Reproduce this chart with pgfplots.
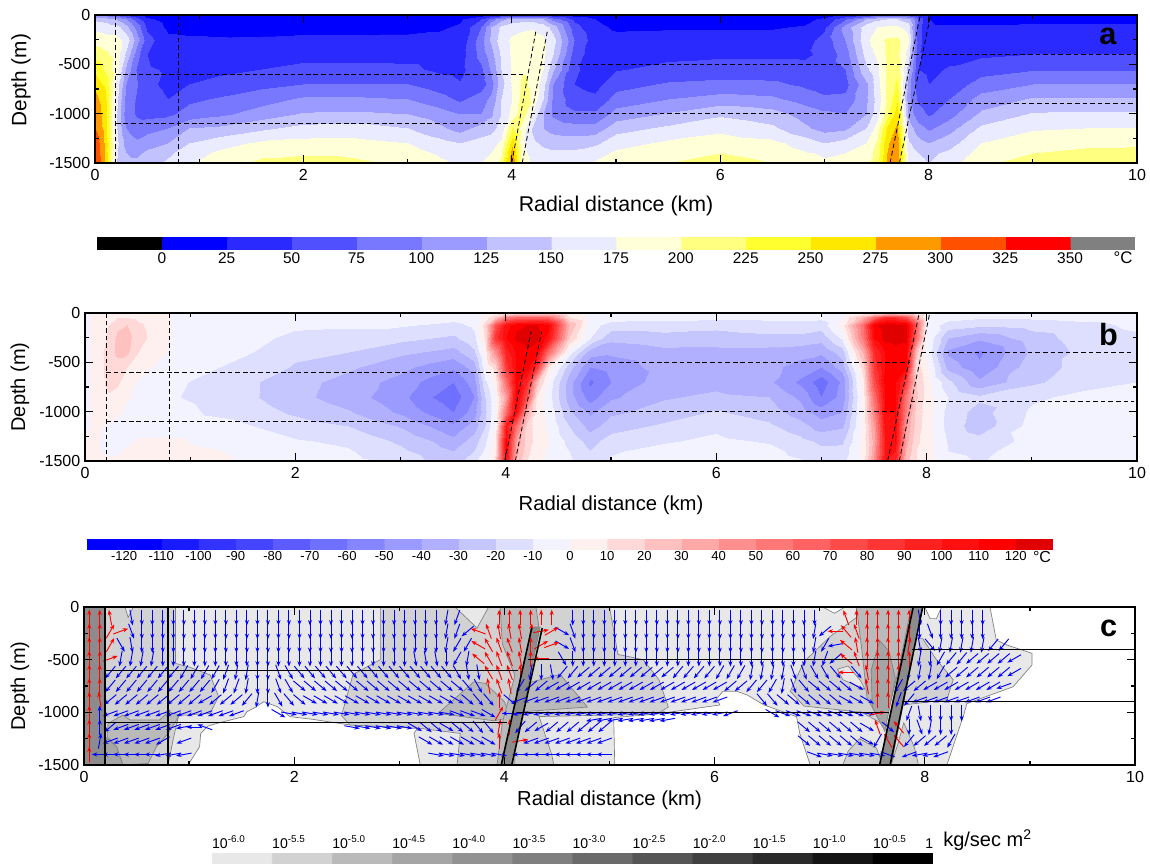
\documentclass[border=0pt]{standalone}
\usepackage{pgfplots}
\pgfplotsset{compat=1.18}
\usepackage{fontspec}
\setmainfont{Liberation Sans}
\usetikzlibrary{arrows.meta}
\definecolor{g1}{RGB}{232,232,232}\definecolor{g2}{RGB}{210,210,210}\definecolor{g3}{RGB}{186,186,186}\definecolor{g4}{RGB}{165,165,165}\definecolor{g5}{RGB}{140,140,140}
\newcount\gc
\gc=0
\pgfplotsforeachungrouped \x in {0,.1,.2,.3,.4,.5,.7,.9,1.2,1.6,2,2.5,3,3.3,3.5,3.7,3.8,3.9,4,4.1,4.2,4.3,4.4,4.6,4.8,5,5.5,6,6.5,6.8,7,7.2,7.4,7.5,7.6,7.7,7.8,7.9,8,8.2,8.5,9,9.5,10}{\advance\gc by 1 \expandafter\xdef\csname xn\the\gc\endcsname{\x}}
\gdef\ga{}\gdef\gb{}
\newcommand\grow[3]{\gc=0 \pgfplotsforeachungrouped \v in {#3}{\advance\gc by 1 \xdef#1{#1 (\csname xn\the\gc\endcsname,#2) [\v]}}\ifnum\gc=44 \else\errmessage{row #2 has \the\gc}\fi}
% temperature, panel a
\grow\ga{0}{100,95,70,45,25,12,8,8, 8,8,8,8,8,8, 10,15,25,35,40,40,40,35,28,15,10, 8,8,8,8,8, 15,30,50,65,70,70,60,35, 15,10,10,10,10,10}
\grow\ga{-40}{145,140,125,100,60,30,15,12, 12,12,12,12,12,14, 22,50,85,115,135,140,140,125,90,45,25, 16,14,14,14,18, 30,70,125,145,150,150,135,70, 25,18,18,18,18,18}
\grow\ga{-120}{168,165,160,135,90,45,20,19, 19,18,18,18,19,22, 28,75,125,155,165,170,172,165,140,60,30, 22,23,23,23,27, 45,110,165,175,180,180,165,60, 28,28,28,30,30,30}
\grow\ga{-250}{190,185,185,165,110,60,30,28, 27,28,30,30,30,31, 32,90,130,165,180,185,185,180,160,75,35, 31,32,33,34,38, 60,100,170,190,205,205,180,60, 30,33,35,38,38,38}
\grow\ga{-400}{215,205,190,145,85,50,40,38, 38,40,41,41,41,40, 38,85,115,155,180,190,188,180,150,65,33, 38,44,46,46,46, 55,88,160,180,205,205,165,55, 38,42,45,50,50,50}
\grow\ga{-550}{245,220,185,120,72,52,48,46, 44,50,57,57,55,45, 42,70,105,150,180,198,195,175,130,55,37, 48,56,60,60,56, 60,75,145,170,205,215,140,50, 45,52,65,73,73,73}
\grow\ga{-700}{265,245,170,100,76,55,45,50, 58,68,75,75,75,62, 52,60,90,140,178,205,195,160,100,50,42, 65,78,82,80,70, 62,65,120,165,205,230,115,60, 50,60,85,100,100,100}
\grow\ga{-850}{285,258,160,90,72,60,50,70, 78,90,104,104,100,85, 70,90,105,150,175,210,195,150,95,60,55, 85,100,110,105,90, 80,82,120,160,205,245,110,70, 60,75,110,128,128,128}
\grow\ga{-1000}{295,262,155,85,72,68,70,85, 95,112,128,130,125,112, 100,100,120,150,185,215,170,125,95,80,80, 110,128,146,135,115, 105,100,125,165,215,265,120,85, 72,90,130,153,155,155}
\grow\ga{-1150}{300,265,155,100,85,90,100,125, 130,145,158,160,150,130, 115,135,140,160,225,190,145,125,115,110,110, 140,155,168,155,130, 115,120,150,185,255,280,140,110, 95,115,155,172,175,175}
\grow\ga{-1300}{320,270,160,115,105,115,125,150, 165,180,183,183,175,160, 150,160,165,180,265,180,155,145,140,140,145, 165,180,188,182,165, 150,160,175,205,270,295,155,135, 125,140,175,190,195,195}
\grow\ga{-1400}{325,272,155,125,120,130,145,165, 180,195,197,195,185,172, 165,172,175,195,290,185,165,158,155,155,165, 180,190,200,190,178, 172,175,185,210,275,295,165,150, 145,155,185,200,205,210}
\grow\ga{-1500}{330,275,150,130,130,140,155,172, 190,205,212,205,195,180, 170,175,178,210,300,190,170,165,165,170,178, 190,200,212,200,185, 178,178,190,215,280,295,170,155, 150,165,195,212,220,225}
% temperature difference, panel b
\grow\gb{0}{-3,3,4,5,5,4,3,-3, -3,-3,-3,-3,-3,-3, -3,-2,2,6,8,10,10,10,10,3,-3, -3,-3,-3,-3,-3, -3,-1,4,8,12,12,10,3, -3,-3,-3,-3,-3,-3}
\grow\gb{-40}{-3,4,6,9,9,7,3,-3, -3,-3,-3,-3,-4,-5, -6,-4,4,20,50,60,60,60,60,10,-3, -4,-6,-7,-7,-7, -7,0,30,60,85,85,70,30, -2,-5,-8,-8,-6,-5}
\grow\gb{-120}{-3,5,8,18,20,12,4,-3, -3,-3,-8,-9,-9,-11, -13,-8,15,70,105,118,120,120,115,30,-5, -15,-15,-17,-14,-14, -16,5,60,118,125,125,125,70, -3,-15,-18,-16,-13,-8}
\grow\gb{-250}{-3,5,10,22,24,14,4,-3, -4,-7,-13,-13,-17,-20, -22,-13,12,85,110,122,125,122,105,20,-10, -27,-24,-25,-23,-23, -26,-8,55,110,125,125,122,60, -2,-30,-38,-25,-15,-12}
\grow\gb{-400}{-3,5,12,22,22,10,2,-3, -5,-10,-18,-20,-28,-31, -34,-22,5,45,95,112,118,112,60,-5,-35, -38,-33,-33,-34,-36, -38,-25,32,90,110,115,115,25, -3,-42,-52,-28,-17,-13}
\grow\gb{-550}{-3,4,12,16,10,4,-2,-3, -9,-14,-21,-28,-37,-44, -48,-35,-2,15,85,110,115,85,10,-25,-50, -46,-36,-35,-37,-44, -50,-35,15,85,112,112,110,15, 3,-34,-48,-24,-17,-12}
\grow\gb{-700}{-3,4,11,12,5,-1,-3,-9, -13,-19,-26,-34,-44,-54, -60,-45,-12,3,60,112,90,25,-3,-35,-62, -50,-34,-33,-38,-52, -66,-48,8,75,115,112,80,20, 5,-17,-38,-22,-14,-10}
\grow\gb{-850}{-3,4,9,6,1,-2,-3,-10, -14,-19,-27,-35,-47,-60, -66,-50,-20,-2,40,115,70,8,-5,-35,-55, -42,-31,-28,-30,-42, -60,-46,3,60,110,112,55,22, 5,-10,-18,-12,-7,-6}
\grow\gb{-1000}{-3,3,6,2,-2,-3,-3,-6, -12,-15,-22,-29,-42,-53, -60,-45,-22,-2,60,110,35,5,-2,-28,-42, -32,-26,-19,-25,-35, -45,-40,2,50,110,110,50,16, 5,-14,-24,-8,-5,-4}
\grow\gb{-1150}{-2,2,-1,-3,-3,-3,-3,-3, -5,-10,-15,-20,-31,-41, -48,-35,-20,0,100,60,15,5,-1,-20,-34, -25,-18,-12,-18,-26, -35,-32,2,40,105,110,40,15, 5,-14,-26,-6,-4,-3}
\grow\gb{-1300}{1,1,-2,-4,-2,1,1,1, -3,-4,-9,-12,-22,-30, -37,-25,-12,5,112,40,15,6,0,-13,-24, -15,-11,-8,-11,-17, -22,-22,3,35,100,110,35,12, 6,-11,-16,-7,-3,-3}
\grow\gb{-1400}{1,1,-1,-2,2,3,3,3, 1,-3,-6,-9,-18,-25, -30,-20,-8,8,110,35,12,5,-1,-10,-20, -11,-7,-5,-7,-13, -18,-16,3,40,100,100,30,10, 5,-10,-13,-4,-3,-3}
\grow\gb{-1500}{1,2,2,2,3,4,4,3, 3,-3,-3,-7,-12,-22, -26,-12,-5,12,105,30,10,4,-2,-8,-17, -9,-5,-4,-6,-9, -14,-14,3,45,100,95,25,10, 5,-6,-11,-3,-3,-3}
% flow direction, panel c: count/angle (tens of degrees); negative = red, 99 = no arrow
\newcount\qk \newcount\qn
\gdef\qblue{}\gdef\qred{}
\def\qseg#1/#2\relax#3{\qn=0 \loop\ifnum\qn<#1 \qemit{#2}{#3}\advance\qn by 1 \repeat}
\newcommand\qemit[2]{\pgfmathsetmacro\qx{0.05+0.1*\the\qk}\advance\qk by 1
 \ifnum#1=99 \else\ifnum#1<0 \xdef\qred{\unexpanded\expandafter{\qred}\qx\space #2\space \the\numexpr-10*(#1)\relax\unexpanded{\\}}\else\xdef\qblue{\unexpanded\expandafter{\qblue}\qx\space #2\space \the\numexpr10*(#1)\relax\unexpanded{\\}}\fi\fi}
\newcommand\qrow[2]{\qk=0 \pgfplotsforeachungrouped \seg in {#2}{\expandafter\qseg\seg\relax{#1}}}
\qrow{-100}{2/-9,1/-10,1/99,1/28,29/27,1/26,1/25,3/99,6/-9,1/99,24/27,2/99,1/-11,6/-9,1/28,1/99,5/27}
\qrow{-230}{2/-9,1/-6,1/-2,1/29,29/27,1/26,1/25,1/22,1/-16,1/-11,3/-10,1/-8,1/-1,1/-3,1/33,1/29,22/27,1/26,1/22,1/-18,1/-13,1/-11,5/-9,1/27,1/29,5/27}
\qrow{-360}{2/-9,1/-6,1/30,1/28,29/27,1/26,1/24,1/24,1/-15,1/-12,2/-11,1/-10,1/-9,1/-3,1/-2,1/33,1/29,22/27,1/26,1/24,1/19,1/-14,1/-10,4/-9,1/-8,1/28,1/31,5/26,2/23}
\qrow{-490}{2/-9,1/-2,2/26,2/26,24/27,3/28,1/27,1/24,1/26,1/-14,1/-12,2/-11,1/-10,1/-9,1/-18,1/99,1/30,23/27,1/26,1/25,1/22,1/-14,1/-11,5/-9,1/26,1/27,1/24,2/23,4/22,1/21}
\qrow{-620}{2/-9,7/23,4/24,1/25,2/26,2/27,1/29,1/30,15/31,1/30,2/28,1/-12,2/-11,1/-9,1/26,1/27,1/28,2/23,9/22,4/23,3/24,4/26,2/29,2/30,1/31,1/-18,1/31,1/-10,3/-9,1/26,2/26,1/24,6/22,1/21}
\qrow{-750}{2/-9,10/23,1/24,2/25,1/26,2/27,1/29,1/30,16/32,1/31,1/30,1/-10,1/-11,1/-10,1/24,2/22,17/21,2/22,2/23,1/24,1/26,1/29,1/31,4/32,1/33,1/-10,2/-9,1/24,2/22,7/21,1/20}
\qrow{-880}{1/-9,1/-10,9/22,1/21,2/22,1/22,1/23,1/26,1/27,1/30,1/31,1/32,15/33,1/32,2/31,1/-9,1/32,20/20,3/99,2/31,6/32,3/33,2/-9,1/25,1/23,8/20}
\qrow{-1010}{1/-9,1/9,13/20,3/99,1/33,16/35,3/34,1/33,1/-6,1/18,20/19,1/20,3/99,1/33,8/34,1/35,1/-1,2/99,1/25,1/28,4/27}
\qrow{-1070}{48/99,8/19}
\qrow{-1140}{1/-9,1/9,1/22,6/20,1/19,1/18,1/16,13/99,6/35,1/33,2/32,1/33,2/32,2/31,1/-8,1/-9,1/23,1/22,1/21,6/22,18/99,6/32,1/33,1/-11,1/32,1/-13,1/27,1/29,1/26,2/27}
\qrow{-1270}{1/-9,1/8,5/20,1/21,1/99,1/20,22/99,7/33,1/-9,1/99,1/-1,8/20,18/99,6/32,1/33,1/24,1/-12,1/-13,1/23,3/22,1/24}
\qrow{-1400}{1/-9,6/18,3/19,23/99,7/35,1/99,9/18,19/99,1/34,6/35,1/34,1/99,1/20,2/19,1/20}
\pgfplotsset{
colormap={ta}{rgb255(0pt)=(0,0,0) rgb255(24.9pt)=(0,0,0) rgb255(25pt)=(0,0,255) rgb255(49.9pt)=(0,0,255) rgb255(50pt)=(42,42,255) rgb255(74.9pt)=(42,42,255) rgb255(75pt)=(80,80,255) rgb255(99.9pt)=(80,80,255) rgb255(100pt)=(120,120,255) rgb255(124.9pt)=(120,120,255) rgb255(125pt)=(154,154,255) rgb255(149.9pt)=(154,154,255) rgb255(150pt)=(194,194,255) rgb255(174.9pt)=(194,194,255) rgb255(175pt)=(235,235,255) rgb255(199.9pt)=(235,235,255) rgb255(200pt)=(255,255,216) rgb255(224.9pt)=(255,255,216) rgb255(225pt)=(255,255,128) rgb255(249.9pt)=(255,255,128) rgb255(250pt)=(255,255,48) rgb255(274.9pt)=(255,255,48) rgb255(275pt)=(255,232,0) rgb255(299.9pt)=(255,232,0) rgb255(300pt)=(255,153,0) rgb255(324.9pt)=(255,153,0) rgb255(325pt)=(255,80,0) rgb255(349.9pt)=(255,80,0) rgb255(350pt)=(255,0,0) rgb255(374.9pt)=(255,0,0) rgb255(375pt)=(128,128,128) rgb255(400pt)=(128,128,128)},
colormap={tb}{rgb255(0pt)=(0,0,255) rgb255(19.9pt)=(0,0,255) rgb255(20pt)=(26,26,255) rgb255(29.9pt)=(26,26,255) rgb255(30pt)=(51,51,255) rgb255(39.9pt)=(51,51,255) rgb255(40pt)=(69,69,255) rgb255(49.9pt)=(69,69,255) rgb255(50pt)=(91,91,255) rgb255(59.9pt)=(91,91,255) rgb255(60pt)=(112,112,255) rgb255(69.9pt)=(112,112,255) rgb255(70pt)=(133,133,255) rgb255(79.9pt)=(133,133,255) rgb255(80pt)=(154,154,255) rgb255(89.9pt)=(154,154,255) rgb255(90pt)=(176,176,255) rgb255(99.9pt)=(176,176,255) rgb255(100pt)=(198,198,255) rgb255(109.9pt)=(198,198,255) rgb255(110pt)=(222,222,255) rgb255(119.9pt)=(222,222,255) rgb255(120pt)=(243,243,255) rgb255(129.9pt)=(243,243,255) rgb255(130pt)=(255,240,240) rgb255(139.9pt)=(255,240,240) rgb255(140pt)=(255,216,216) rgb255(149.9pt)=(255,216,216) rgb255(150pt)=(255,192,192) rgb255(159.9pt)=(255,192,192) rgb255(160pt)=(255,168,168) rgb255(169.9pt)=(255,168,168) rgb255(170pt)=(255,143,143) rgb255(179.9pt)=(255,143,143) rgb255(180pt)=(255,120,120) rgb255(189.9pt)=(255,120,120) rgb255(190pt)=(255,98,98) rgb255(199.9pt)=(255,98,98) rgb255(200pt)=(255,74,74) rgb255(209.9pt)=(255,74,74) rgb255(210pt)=(255,53,53) rgb255(219.9pt)=(255,53,53) rgb255(220pt)=(255,32,32) rgb255(229.9pt)=(255,32,32) rgb255(230pt)=(255,16,16) rgb255(239.9pt)=(255,16,16) rgb255(240pt)=(255,0,0) rgb255(249.9pt)=(255,0,0) rgb255(250pt)=(224,0,0) rgb255(260pt)=(224,0,0)},
colormap={tc}{rgb255(0pt)=(232,232,232) rgb255(4.9pt)=(232,232,232) rgb255(5pt)=(210,210,210) rgb255(9.9pt)=(210,210,210) rgb255(10pt)=(186,186,186) rgb255(14.9pt)=(186,186,186) rgb255(15pt)=(165,165,165) rgb255(19.9pt)=(165,165,165) rgb255(20pt)=(146,146,146) rgb255(24.9pt)=(146,146,146) rgb255(25pt)=(127,127,127) rgb255(29.9pt)=(127,127,127) rgb255(30pt)=(106,106,106) rgb255(34.9pt)=(106,106,106) rgb255(35pt)=(85,85,85) rgb255(39.9pt)=(85,85,85) rgb255(40pt)=(64,64,64) rgb255(44.9pt)=(64,64,64) rgb255(45pt)=(42,42,42) rgb255(49.9pt)=(42,42,42) rgb255(50pt)=(20,20,20) rgb255(54.9pt)=(20,20,20) rgb255(55pt)=(0,0,0) rgb255(60pt)=(0,0,0)},
mainax/.style={scale only axis,xmin=0,xmax=10,ymin=-1500,ymax=0,xtick={0,2,4,6,8,10},minor xtick={1,3,5,7,9},ytick={-1500,-1000,-500,0},minor ytick={-1250,-750,-250},tick align=inside,axis line style={line width=1.3pt},major tick length=6pt,minor tick length=3pt,major tick style={line width=1pt,black},minor tick style={line width=1pt,black},/pgf/number format/assume math mode=true,/pgf/number format/set thousands separator={},scaled y ticks=false,tick label style={font=\fontsize{12}{14}\selectfont},xticklabel style={yshift=-1pt},axis on top},
barax/.style={scale only axis,ymin=0,ymax=1,ytick=\empty,axis line style={draw=none},tick style={draw=none},/pgf/number format/assume math mode=true},
dl/.style={black,line width=0.6pt,dash pattern=on 3.5pt off 2.2pt,forget plot},
sl/.style={black,line width=0.9pt,forget plot},
g/.style={draw=black!50,line width=0.5pt,fill=#1}
}
\begin{document}
\begin{tikzpicture}[x=0.75pt,y=0.75pt]
\path[use as bounding box] (0,0) rectangle (1150,-864);
% panel a
\begin{axis}[mainax,at={(71.25pt,-122.25pt)},anchor=south west,width=781.5pt,height=111pt,colormap name=ta,point meta min=-25,point meta max=375,
 xlabel={Radial distance (km)},xlabel style={at={(axis description cs:0.5,-0.29)},anchor=center,font=\fontsize{16}{18}\selectfont},
 ylabel={Depth (m)},ylabel style={at={(axis description cs:-0.071,0.56)},anchor=center,font=\fontsize{15.6}{18}\selectfont}]
\edef\tmp{\noexpand\addplot[surf,shader=interp,mesh/cols=44,point meta=explicit] coordinates {\ga};}\tmp
\addplot[dl] coordinates {(0.2,0)(0.2,-1500)};
\addplot[dl] coordinates {(0.8,0)(0.8,-1500)};
\addplot[dl] coordinates {(0.2,-600)(4.13,-600)};
\addplot[dl] coordinates {(0.2,-1100)(4.02,-1100)};
\addplot[dl] coordinates {(4.27,-500)(7.83,-500)};
\addplot[dl] coordinates {(4.18,-1000)(7.68,-1000)};
\addplot[dl] coordinates {(7.86,-400)(10,-400)};
\addplot[dl] coordinates {(7.8,-900)(10,-900)};
\addplot[dl] coordinates {(4.0,-1500)(4.23,-170)};
\addplot[dl] coordinates {(4.1,-1500)(4.34,-170)};
\addplot[dl] coordinates {(7.63,-1500)(7.92,0)};
\addplot[dl] coordinates {(7.72,-1500)(8.02,0)};
\node[font=\fontsize{23}{25}\bfseries\selectfont] at (axis cs:9.72,-213) {a};
\end{axis}
\begin{axis}[barax,at={(72.75pt,-186.75pt)},anchor=south west,width=778.5pt,height=9pt,xmin=-25,xmax=375,colormap name=ta,point meta min=-25,point meta max=375,xtick={0,25,...,350},tick label style={font=\fontsize{11.6}{13}\selectfont},xticklabel style={yshift=1pt}]
\addplot[surf,shader=interp,mesh/cols=2,point meta=x] coordinates {(-25,0)(375,0)(-25,1)(375,1)};
\end{axis}
\node[font=\fontsize{12.6}{14}\selectfont] at (1123,-258) {°C};
% panel b
\begin{axis}[mainax,at={(63.75pt,-345.75pt)},anchor=south west,width=789pt,height=111pt,colormap name=tb,point meta min=-130,point meta max=130,
 xlabel={Radial distance (km)},xlabel style={at={(axis description cs:0.5,-0.297)},anchor=center,font=\fontsize{15.2}{18}\selectfont},
 ylabel={Depth (m)},ylabel style={at={(axis description cs:-0.0618,0.5)},anchor=center,font=\fontsize{15}{18}\selectfont}]
\edef\tmp{\noexpand\addplot[surf,shader=interp,mesh/cols=44,point meta=explicit] coordinates {\gb};}\tmp
\addplot[dl] coordinates {(0.2,0)(0.2,-1500)};
\addplot[dl] coordinates {(0.8,0)(0.8,-1500)};
\addplot[dl] coordinates {(0.2,-600)(4.17,-600)};
\addplot[dl] coordinates {(0.2,-1100)(4.06,-1100)};
\addplot[dl] coordinates {(4.28,-500)(7.84,-500)};
\addplot[dl] coordinates {(4.18,-1000)(7.73,-1000)};
\addplot[dl] coordinates {(7.95,-400)(9.97,-400)};
\addplot[dl] coordinates {(7.85,-900)(9.97,-900)};
\addplot[dl] coordinates {(3.99,-1500)(4.24,-190)};
\addplot[dl] coordinates {(4.09,-1500)(4.34,-190)};
\addplot[dl] coordinates {(7.63,-1500)(7.93,0)};
\addplot[dl] coordinates {(7.74,-1500)(8.03,0)};
\node[font=\fontsize{23}{25}\bfseries\selectfont] at (axis cs:9.73,-220) {b};
\end{axis}
\begin{axis}[barax,at={(65.25pt,-411.75pt)},anchor=south west,width=724.5pt,height=7.5pt,xmin=-130,xmax=130,colormap name=tb,point meta min=-130,point meta max=130,xtick={-120,-110,...,120},tick label style={font=\fontsize{9.8}{11}\selectfont},xticklabel style={yshift=2pt}]
\addplot[surf,shader=interp,mesh/cols=2,point meta=x] coordinates {(-130,0)(130,0)(-130,1)(130,1)};
\end{axis}
\node[font=\fontsize{12}{14}\selectfont] at (1042,-557) {°C};
% panel c
\begin{axis}[mainax,at={(63pt,-573.75pt)},anchor=south west,width=788.25pt,height=118.5pt,
 xlabel={Radial distance (km)},xlabel style={at={(axis description cs:0.5,-0.2215)},anchor=center,font=\fontsize{15.2}{18}\selectfont},
 ylabel={Depth (m)},ylabel style={at={(axis description cs:-0.0609,0.5)},anchor=center,font=\fontsize{15}{18}\selectfont}]
\addplot[g=g1] coordinates {(0,0)(8.62,0)(8.68,-313)(8.78,-360)(9.02,-440)(9.02,-550)(8.84,-757)(8.4,-917)(8.37,-1026)(8.29,-1263)(8.21,-1500)(6.91,-1500)(6.81,-1200)(6.78,-1041)(6.47,-930)(6.31,-835)(6.21,-800)(6.08,-800)(6.02,-870)(6.05,-930)(5.45,-1016)(5.04,-1050)(5.05,-1500)(3.2,-1500)(3.14,-1200)(3.17,-1152)(2.53,-1120)(2.18,-1067)(1.96,-1041)(1.84,-946)(1.71,-899)(1.63,-953)(1.55,-994)(1.52,-1041)(1.29,-1098)(1.18,-1130)(1.11,-1200)(1.1,-1326)(0.99,-1500)(0,-1500)} --cycle;
\addplot[g=white] coordinates {(7.03,0)(7.14,-60)(7.24,0)} --cycle;
\addplot[g=white] coordinates {(8,0)(8.05,-110)(8.11,-110)(8.16,0)} --cycle;
\addplot[g=g2] coordinates {(0,0)(0.87,0)(0.87,-535)(1,-570)(1.2,-645)(1.28,-850)(1.2,-1010)(0.9,-1030)(0.85,-1250)(0.8,-1500)(0,-1500)} --cycle;
\addplot[g=g1] coordinates {(0.39,0)(0.42,-100)(0.47,0)} --cycle;
\addplot[g=g2] coordinates {(2.82,0)(3.53,0)(3.74,-200)(3.85,0)(5,0)(5.08,-450)(5.32,-500)(5.47,-690)(5.56,-950)(5.45,-1016)(4.33,-1040)(4.45,-1400)(4.47,-1500)(3.55,-1500)(3.58,-1200)(3.2,-1152)(2.53,-1120)(2.45,-1030)(2.56,-640)(2.82,-500)} --cycle;
\addplot[g=g3] coordinates {(0.23,-1105)(0.37,-1026)(0.44,-1073)(0.72,-1073)(0.8,-994)(0.91,-1026)(0.8,-1200)(0.69,-1326)(0.61,-1485)(0.37,-1500)(0.31,-1326)(0.22,-1230)} --cycle;
\addplot[g=g4] coordinates {(0.2,-1230)(0.31,-1326)(0.37,-1500)(0.2,-1500)} --cycle;
\addplot[g=g5] coordinates {(0,0)(0.2,0)(0.2,-1500)(0,-1500)} --cycle;
\addplot[g=g3] coordinates {(3.37,-1010)(3.71,-710)(3.82,-725)(4,-900)(4.06,-1050)(3.9,-1080)} --cycle;
\addplot[g=g3] coordinates {(4.21,-725)(4.53,-640)(4.79,-950)(4.17,-994)} --cycle;
\addplot[g=g3] coordinates {(3.96,0)(4.3,0)(4.33,-200)(4.2,-600)(4.1,-1100)(4.1,-1500)(3.93,-1500)(3.98,-1100)(4.1,-650)(3.98,-350)} --cycle;
\addplot[g=g5] coordinates {(4.26,-190)(4.34,-190)(4.07,-1500)(3.98,-1500)} --cycle;
\addplot[g=g2] coordinates {(7.35,-100)(7.1,-280)(6.85,-520)(6.72,-800)(6.85,-940)(7.4,-1000)(7.58,-1100)(7.75,-600)(7.87,0)(7.35,0)} --cycle;
\addplot[g=g1] coordinates {(7.17,-590)(7.22,-690)(7.43,-780)(7.39,-700)(7.27,-560)} --cycle;
\addplot[g=g3] coordinates {(7.35,0)(7.87,0)(7.75,-600)(7.65,-1000)(7.58,-1100)(7.45,-860)(7.4,-400)} --cycle;
\addplot[g=g4] coordinates {(7.57,-320)(7.66,-420)(7.72,-680)(7.62,-1180)(7.5,-950)(7.49,-600)} --cycle;
\addplot[g=g2] coordinates {(7.22,-1500)(7.27,-1370)(7.38,-1250)(7.54,-1340)(7.6,-1500)} --cycle;
\addplot[g=g2] coordinates {(7.68,-1500)(7.75,-1280)(7.8,-1100)(7.9,-1330)(7.94,-1500)} --cycle;
\addplot[g=g2] coordinates {(7.85,-300)(7.98,-300)(8.11,-500)(8.27,-690)(8.21,-880)(7.8,-930)} --cycle;
\addplot[g=g5] coordinates {(7.88,0)(7.98,0)(7.68,-1500)(7.57,-1500)} --cycle;
\edef\tmp{\noexpand\addplot[blue,line width=0.7pt,-{Stealth[length=4pt,width=3pt]},quiver={u={0.15*cos(\noexpand\thisrow{a})},v={150*sin(\noexpand\thisrow{a})}}] table[row sep=\noexpand\\,x expr={\noexpand\thisrow{x}-0.075*cos(\noexpand\thisrow{a})},y expr={\noexpand\thisrow{y}-75*sin(\noexpand\thisrow{a})}] {x y a\unexpanded{\\}\unexpanded\expandafter{\qblue}};}\tmp
\edef\tmp{\noexpand\addplot[red,line width=0.7pt,-{Stealth[length=4pt,width=3pt]},quiver={u={0.15*cos(\noexpand\thisrow{a})},v={150*sin(\noexpand\thisrow{a})}}] table[row sep=\noexpand\\,x expr={\noexpand\thisrow{x}-0.075*cos(\noexpand\thisrow{a})},y expr={\noexpand\thisrow{y}-75*sin(\noexpand\thisrow{a})}] {x y a\unexpanded{\\}\unexpanded\expandafter{\qred}};}\tmp
\addplot[sl] coordinates {(0.2,0)(0.2,-1500)};
\addplot[sl] coordinates {(0.8,0)(0.8,-1500)};
\addplot[sl] coordinates {(0.2,-600)(4.13,-600)};
\addplot[sl] coordinates {(0.2,-1100)(4.02,-1100)};
\addplot[sl] coordinates {(4.22,-500)(7.82,-500)};
\addplot[sl] coordinates {(4.12,-1000)(7.66,-1000)};
\addplot[sl] coordinates {(7.88,-400)(10,-400)};
\addplot[sl] coordinates {(7.78,-900)(10,-900)};
\addplot[sl,line width=1.2pt] coordinates {(3.97,-1500)(4.26,-200)};
\addplot[sl,line width=1.2pt] coordinates {(4.07,-1500)(4.36,-200)};
\addplot[sl,line width=1.2pt] coordinates {(7.57,-1500)(7.89,0)};
\addplot[sl,line width=1.2pt] coordinates {(7.67,-1500)(7.98,0)};
\node[font=\fontsize{23}{25}\bfseries\selectfont] at (axis cs:9.75,-200) {c};
\end{axis}
\begin{axis}[barax,at={(159pt,-648pt)},anchor=south west,width=540.75pt,height=8.25pt,xmin=-6,xmax=0,colormap name=tc,point meta min=-6,point meta max=0,xticklabel pos=upper,xtick={-5.86,-5.36,-4.86,-4.36,-3.86,-3.36,-2.86,-2.36,-1.86,-1.36,-0.86,-0.36,-0.03},xticklabels={10\textsuperscript{-6.0},10\textsuperscript{-5.5},10\textsuperscript{-5.0},10\textsuperscript{-4.5},10\textsuperscript{-4.0},10\textsuperscript{-3.5},10\textsuperscript{-3.0},10\textsuperscript{-2.5},10\textsuperscript{-2.0},10\textsuperscript{-1.5},10\textsuperscript{-1.0},10\textsuperscript{-0.5},1},tick label style={font=\fontsize{10.6}{12}\selectfont},xticklabel style={yshift=0pt}]
\addplot[surf,shader=interp,mesh/cols=2,point meta=x] coordinates {(-6,0)(0,0)(-6,1)(0,1)};
\end{axis}
\node[anchor=west,inner sep=0pt,font=\fontsize{15}{17}\selectfont] at (943,-840) {kg/sec m\textsuperscript{2}};
\end{tikzpicture}
\end{document}
